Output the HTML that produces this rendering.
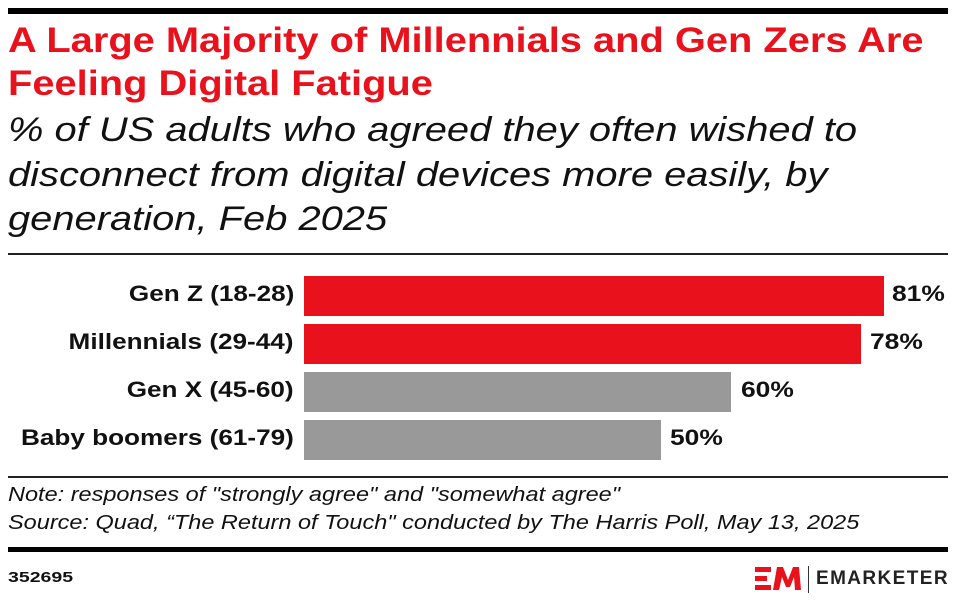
<!DOCTYPE html>
<html><head><meta charset="utf-8"><style>
body{margin:0;width:956px;height:604px;background:#fff;font-family:"Liberation Sans",sans-serif;position:relative;overflow:hidden}
.a{position:absolute;white-space:nowrap;transform-origin:left top}
.t{color:#e8111c;font-weight:bold;font-size:35px;left:8px;transform:scaleX(1.138)}
.s{font-style:italic;font-size:34px;left:8px;color:#111;transform:scaleX(1.173)}
.lbl{right:662px;font-weight:bold;font-size:22px;color:#111;transform-origin:right top;transform:scaleX(1.187)}
.bar{position:absolute;left:304px;height:40px}
.v{font-weight:bold;font-size:22px;color:#111;transform:scaleX(1.2)}
.n{font-style:italic;font-size:20px;left:8px;color:#111;transform:scaleX(1.175)}
</style></head><body>
<div class="a" style="left:8px;top:8px;width:940px;height:6px;background:#000"></div>
<div class="a t" style="top:21px">A Large Majority of Millennials and Gen Zers Are</div>
<div class="a t" style="top:64px">Feeling Digital Fatigue</div>
<div class="a s" style="top:111px">% of US adults who agreed they often wished to</div>
<div class="a s" style="top:156px">disconnect from digital devices more easily, by</div>
<div class="a s" style="top:200px">generation, Feb 2025</div>
<div class="a" style="left:8px;top:253px;width:940px;height:2px;background:#222"></div>
<div class="a lbl" style="top:281px">Gen Z (18-28)</div>
<div class="a lbl" style="top:329px">Millennials (29-44)</div>
<div class="a lbl" style="top:377px">Gen X (45-60)</div>
<div class="a lbl" style="top:425px">Baby boomers (61-79)</div>
<div class="bar" style="top:276px;width:580px;background:#e8111c"></div>
<div class="bar" style="top:324px;width:557px;background:#e8111c"></div>
<div class="bar" style="top:372px;width:427px;background:#999"></div>
<div class="bar" style="top:420px;width:357px;background:#999"></div>
<div class="a v" style="left:892px;top:281px">81%</div>
<div class="a v" style="left:870px;top:329px">78%</div>
<div class="a v" style="left:741px;top:377px">60%</div>
<div class="a v" style="left:670px;top:425px">50%</div>
<div class="a" style="left:8px;top:476px;width:940px;height:2px;background:#222"></div>
<div class="a n" style="top:484px">Note: responses of "strongly agree" and "somewhat agree"</div>
<div class="a n" style="top:512px">Source: Quad, “The Return of Touch" conducted by The Harris Poll, May 13, 2025</div>
<div class="a" style="left:8px;top:547px;width:940px;height:5px;background:#000"></div>
<div class="a" style="left:8px;top:569px;font-weight:bold;font-size:15px;color:#111;transform:scaleX(1.3)">352695</div>
<svg class="a" style="left:755px;top:565px" width="50" height="28" viewBox="0 0 50 28">
<rect x="0" y="2" width="16" height="5" fill="#e8111c"/><rect x="0" y="11" width="12" height="5" fill="#e8111c"/><rect x="0" y="20" width="16" height="5" fill="#e8111c"/>
<path d="M18 25 L22 2 L28 2 L33 15 L38 2 L44 2 L46 25 L40 25 L39 12 L35 22 L31 22 L27 12 L24 25 Z" fill="#e8111c"/>
</svg>
<div class="a" style="left:808px;top:566px;width:1px;height:27px;background:#333"></div>
<div class="a" style="left:816px;top:568px;font-weight:bold;font-size:19px;letter-spacing:1.4px;color:#222">EMARKETER</div>
</body></html>
